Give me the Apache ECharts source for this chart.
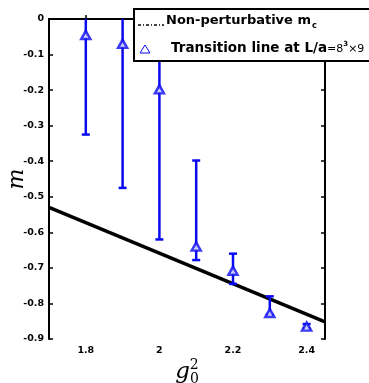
<!DOCTYPE html>
<html><head><meta charset="utf-8">
<script src="https://cdn.jsdelivr.net/npm/echarts@6/dist/echarts.min.js"></script>
<style>html,body{margin:0;padding:0;background:#fff}#c{width:369px;height:383px}</style>
</head><body><div id="c"></div>
<script>
const gSq = [1.8, 1.9, 2.0, 2.1, 2.2, 2.3, 2.4];
const mVal = [-0.045, -0.07, -0.198, -0.64, -0.708, -0.827, -0.865];
const errHigh = [0.0, 0.0, 0.0, -0.398, -0.66, -0.78, -0.858];
const errLow = [-0.325, -0.475, -0.62, -0.678, -0.745, -0.832, -0.87];
const mcLineX = [1.7, 2.45];
const mcLineY = [-0.53, -0.852];
const xTicks = [1.8, 2.0, 2.2, 2.4];
const xTickLabels = ['1.8', '2', '2.2', '2.4'];

const chart = echarts.init(document.getElementById('c'), null, {renderer: 'canvas'});
const blue = '#0a0af0';
const labelFont = {fontFamily: 'DejaVu Sans', fontWeight: 'bold', fontSize: 9.5, color: '#000'};
const axisLine = {show: true, lineStyle: {color: '#000', width: 2}};
chart.setOption({
  animation: false,
  backgroundColor: '#fff',
  grid: {left: 49, right: 44, top: 19, bottom: 44, show: false, containLabel: false, outerBoundsMode: 'none'},
  xAxis: [{
    type: 'value', min: 1.7, max: 2.45,
    axisLine: axisLine,
    axisTick: {inside: true, length: 4, lineStyle: {color: '#000', width: 1.5}, customValues: xTicks},
    axisLabel: Object.assign({margin: 7, customValues: xTicks, formatter: v => xTickLabels[xTicks.findIndex(t => Math.abs(t - v) < 1e-9)] }, labelFont),
    splitLine: {show: false},
    name: '{i|g}{s|0}{p|2}', nameLocation: 'middle', nameGap: 19, nameMoveOverlap: false,
    nameTextStyle: {rich: {
      i: {fontFamily: 'DejaVu Serif', fontStyle: 'italic', fontSize: 23, color: '#000'},
      s: {fontFamily: 'DejaVu Serif', fontSize: 14, color: '#000', verticalAlign: 'bottom', padding: [10,0,0,0]},
      p: {fontFamily: 'DejaVu Serif', fontSize: 14, color: '#000', verticalAlign: 'top', padding: [0,0,14,-9]}
    }}
  }, {
    type: 'value', min: 1.7, max: 2.45, position: 'top',
    axisLine: axisLine,
    axisTick: {inside: true, length: 4, lineStyle: {color: '#000', width: 1.5}, customValues: xTicks},
    axisLabel: {show: false}, splitLine: {show: false}
  }],
  yAxis: [{
    type: 'value', min: -0.9, max: 0, interval: 0.1,
    axisLine: axisLine,
    axisTick: {inside: true, length: 4, lineStyle: {color: '#000', width: 1.5}},
    axisLabel: Object.assign({margin: 5, formatter: v => (Math.abs(v) < 1e-9 ? '0' : v.toFixed(1))}, labelFont),
    splitLine: {show: false},
    name: 'm', nameLocation: 'middle', nameGap: 21, nameRotate: 90, nameMoveOverlap: false,
    nameTextStyle: {fontFamily: 'DejaVu Serif', fontStyle: 'italic', fontSize: 22, color: '#000'}
  }, {
    type: 'value', min: -0.9, max: 0, interval: 0.1, position: 'right',
    axisLine: axisLine,
    axisTick: {inside: true, length: 4, lineStyle: {color: '#000', width: 1.5}},
    axisLabel: {show: false}, splitLine: {show: false}
  }],
  series: [{
    type: 'line', data: mcLineX.map((x, i) => [x, mcLineY[i]]),
    showSymbol: false, lineStyle: {color: '#000', width: 3.5}, z: 3
  }, {
    type: 'custom',
    data: gSq.map((x, i) => [x, errLow[i], errHigh[i]]),
    renderItem: function (params, api) {
      const x = api.value(0);
      const lo = api.coord([x, api.value(1)]);
      const hi = api.coord([x, api.value(2)]);
      const w = 4;
      const st = {stroke: blue, lineWidth: 2.5};
      return {type: 'group', children: [
        {type: 'line', shape: {x1: lo[0], y1: lo[1], x2: hi[0], y2: hi[1]}, style: st},
        {type: 'line', shape: {x1: lo[0]-w, y1: lo[1], x2: lo[0]+w, y2: lo[1]}, style: st},
        {type: 'line', shape: {x1: hi[0]-w, y1: hi[1], x2: hi[0]+w, y2: hi[1]}, style: st, invisible: api.value(2) >= 0}
      ]};
    }, z: 4
  }, {
    type: 'scatter', data: gSq.map((x, i) => [x, mVal[i]]),
    symbol: 'triangle', symbolSize: [9, 8],
    itemStyle: {color: '#fff', borderColor: blue, borderWidth: 2.5}, z: 5
  }],
  graphic: [{
    type: 'rect', shape: {x: 134, y: 9, width: 250, height: 52},
    style: {fill: '#fff', stroke: '#000', lineWidth: 2}, z: 100
  }, {
    type: 'line', shape: {x1: 138, y1: 25, x2: 164, y2: 25},
    style: {stroke: '#000', lineWidth: 1.5, lineDash: [3, 2, 1, 2]}, z: 101
  }, {
    type: 'text', left: 166, top: 14, z: 101,
    style: {text: '{b|Non-perturbative m}{s|c}', rich: {
      b: {fontFamily: 'DejaVu Sans', fontWeight: 'bold', fontSize: 13, fill: '#000'},
      s: {fontFamily: 'DejaVu Sans', fontWeight: 'bold', fontSize: 8, fill: '#000', padding: [10, 0, 0, 1]}
    }}
  }, {
    type: 'polygon', shape: {points: [[145, 45], [140, 53], [150, 53]]},
    style: {fill: 'none', stroke: blue, lineWidth: 1}, z: 101
  }, {
    type: 'text', left: 171, top: 41, z: 101,
    style: {text: '{b|Transition line at L/a}{n|=8}{p|3}{n|×9}', rich: {
      b: {fontFamily: 'DejaVu Sans', fontWeight: 'bold', fontSize: 13.5, fill: '#000'},
      n: {fontFamily: 'DejaVu Sans', fontSize: 11, fill: '#000', padding: [2, 0, 0, 0]},
      p: {fontFamily: 'DejaVu Sans', fontWeight: 'bold', fontSize: 7, fill: '#000', padding: [0, 0, 8, 0]}
    }}
  }]
});
</script></body></html>
